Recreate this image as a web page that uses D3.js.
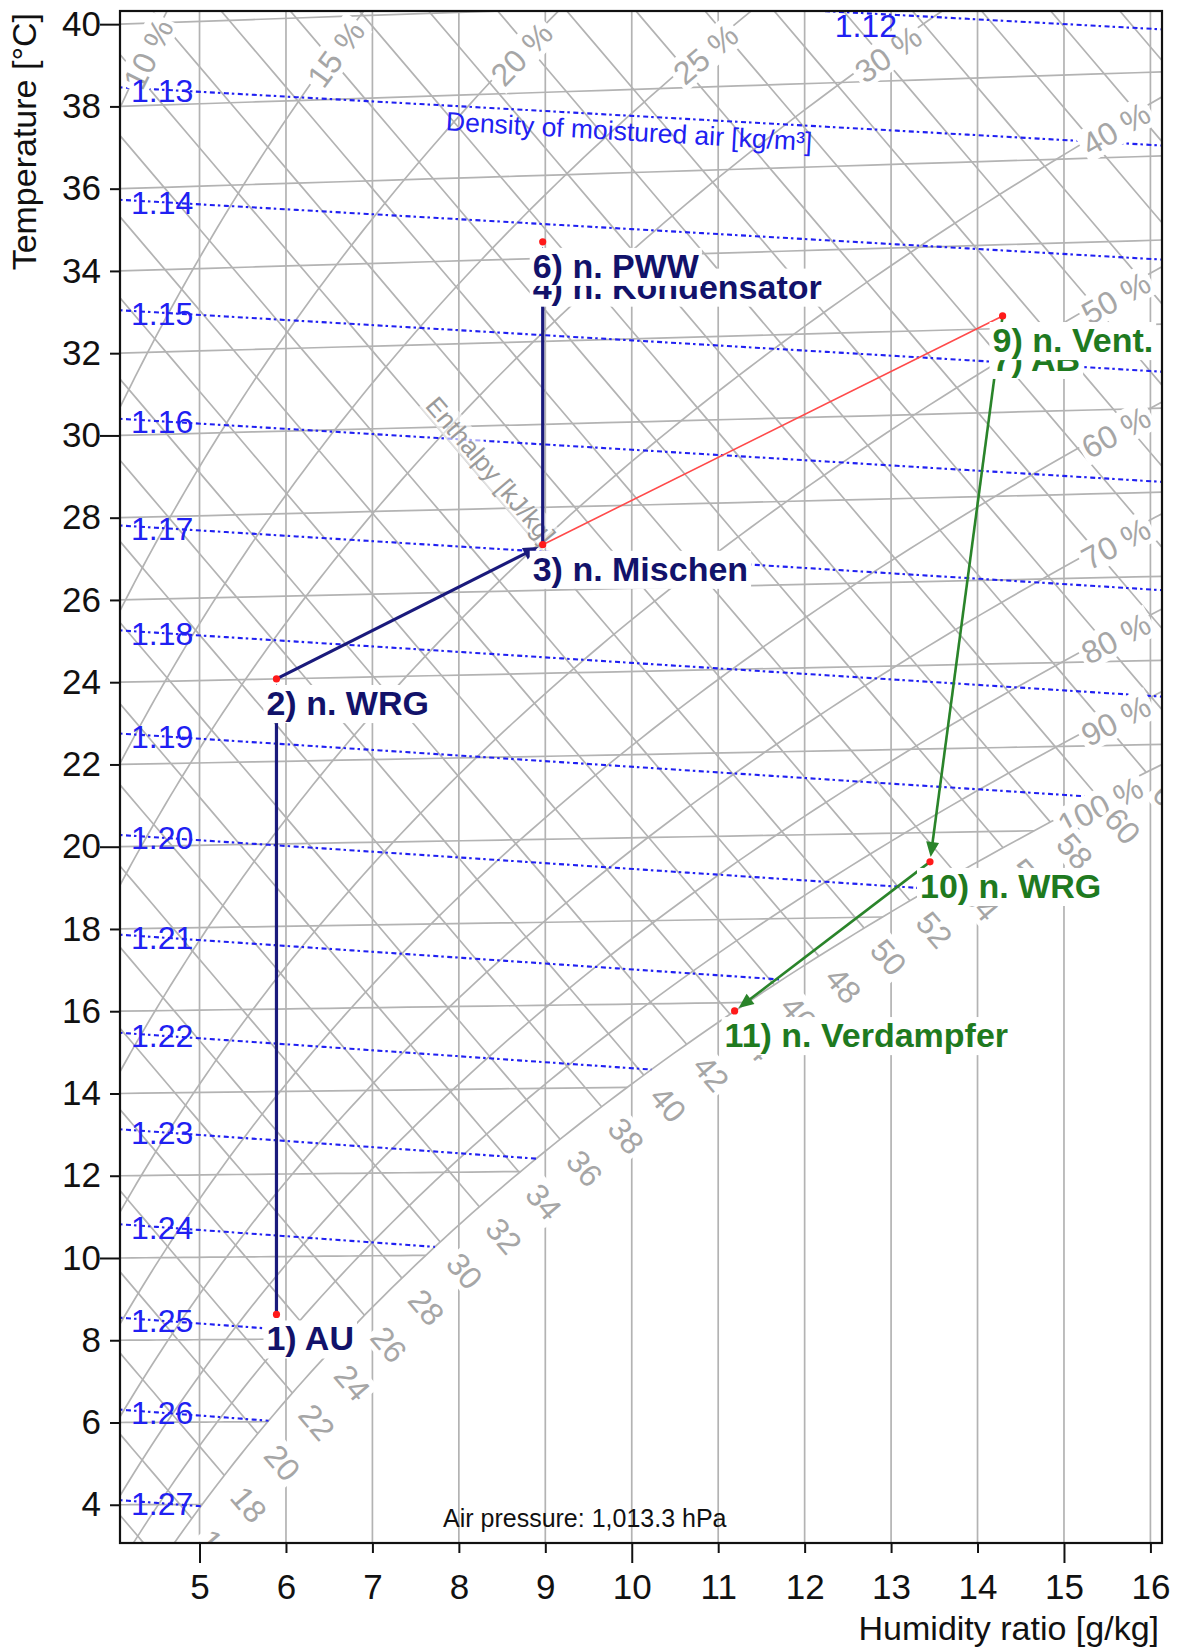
<!DOCTYPE html>
<html>
<head>
<meta charset="utf-8">
<title>h-x diagram</title>
<script src="https://cdn.jsdelivr.net/npm/d3@7/dist/d3.min.js"></script>
<style>
  html, body { margin: 0; padding: 0; background: #ffffff; }
  svg { display: block; font-family: "Liberation Sans", Arial, Helvetica, sans-serif; }
</style>
</head>
<body>
<svg id="chart" width="1179" height="1648"></svg>
<script>
// ---------- axis ticks ----------
const tempTicks = [4, 6, 8, 10, 12, 14, 16, 18, 20, 22, 24, 26, 28, 30, 32, 34, 36, 38, 40];
const humTicks = [5, 6, 7, 8, 9, 10, 11, 12, 13, 14, 15, 16];

// ---------- background line families ----------
const isotherms = [4, 6, 8, 10, 12, 14, 16, 18, 20, 22, 24, 26, 28, 30, 32, 34, 36, 38, 40];
const humidityLines = [5, 6, 7, 8, 9, 10, 11, 12, 13, 14, 15, 16];
const enthalpyLevels = [10, 12, 14, 16, 18, 20, 22, 24, 26, 28, 30, 32, 34, 36, 38, 40, 42, 44, 46, 48,
  50, 52, 54, 56, 58, 60, 62, 64, 66, 68, 70, 72, 74, 76, 78, 80, 82, 84, 86];
const enthalpyLabelLevels = [14, 16, 18, 20, 22, 24, 26, 28, 30, 32, 34, 36, 38, 40, 42, 44, 46, 48,
  50, 52, 54, 56, 58, 60, 62];
const rhLevels = [0.10, 0.15, 0.20, 0.25, 0.30, 0.40, 0.50, 0.60, 0.70, 0.80, 0.90, 1.00];
const rhLabels = ["10 %", "15 %", "20 %", "25 %", "30 %", "40 %", "50 %", "60 %", "70 %", "80 %", "90 %", "100 %"];
const densityLevels = [1.12, 1.13, 1.14, 1.15, 1.16, 1.17, 1.18, 1.19, 1.20, 1.21, 1.22, 1.23, 1.24, 1.25, 1.26, 1.27];
const densityLabels = ["1.12", "1.13", "1.14", "1.15", "1.16", "1.17", "1.18", "1.19", "1.20", "1.21",
  "1.22", "1.23", "1.24", "1.25", "1.26", "1.27"];

// ---------- air states of the process ----------
const pointIds = ["1", "2", "3", "4", "6", "7", "9", "10", "11"];
const pointNames = ["AU", "n. WRG", "n. Mischen", "n. Kondensator", "n. PWW", "AB", "n. Vent.", "n. WRG", "n. Verdampfer"];
const pointTemp = [8.6, 24.0, 27.1, 33.9, 34.4, 31.85, 32.3, 19.3, 15.8];      // °C
const pointHum = [5.89, 5.89, 8.97, 8.97, 8.97, 14.29, 14.29, 13.45, 11.19];   // g/kg
const pointStream = ["supply", "supply", "supply", "supply", "supply", "exhaust", "exhaust", "exhaust", "exhaust"];

// ---------- changes of state ----------
const segStart = ["1", "2", "3", "4", "3", "7", "9", "10"];
const segEnd = ["2", "3", "4", "6", "9", "9", "10", "11"];
const segKind = ["supply", "supply", "supply", "supply", "mix", "exhaust", "exhaust", "exhaust"];

// ---------- styling ----------
const gridColor = "#b3b3b3";
const gridLabelColor = "#a6a6a6";
const densityColor = "#2020f2";
const streamColor = { supply: "#1a1a7c", exhaust: "#2a842a", mix: "#ff4a4a" };
const labelColor = { supply: "#12126a", exhaust: "#1f7a1f" };
const strokeWidth = { supply: 3.2, exhaust: 2.6, mix: 1.6 };

// ---------- layout & scales ----------
const svg = d3.select("#chart");
const width = +svg.attr("width"), height = +svg.attr("height");
const margin = { left: 120, right: 17, top: 11, bottom: 105 };
const plotL = margin.left, plotR = width - margin.right;
const plotT = margin.top, plotB = height - margin.bottom;

const xDom = [4.08, 16.134];
const yDom = [3.07, 40.32];
const xScale = d3.scaleLinear().domain(xDom).range([plotL, plotR]);
const yScale = d3.scaleLinear().domain(yDom).range([plotB, plotT]);

// ---------- psychrometrics at 1013.3 hPa ----------
const P = 101330;
const pSat = t => 611.2 * Math.exp(17.62 * t / (243.12 + t));
const tFromPsat = ps => { const a = Math.log(ps / 611.2); return 243.12 * a / (17.62 - a); };
const xFromPv = pv => 622 * pv / (P - pv);
const pvFromX = x => P * x / (622 + x);
const xAtRH = (t, phi) => xFromPv(phi * pSat(t));
const enthalpy = (t, x) => 1.006 * t + x / 1000 * (2501 + 1.86 * t);
const tAtEnthalpy = (h, x) => (h - 2.501 * x) / (1.006 + 0.00186 * x);
const tAtDensity = (r, x) => { const pv = pvFromX(x); return ((P - pv) / 287.06 + pv / 461.5) / r - 273.15; };
// Mollier ordinate: isotherms tilt with the vapour enthalpy, pinned to the left edge
const ordinate = (t, x) => t * (1.006 + 0.00186 * x) / (1.006 + 0.00186 * xDom[0]);
const sx = x => xScale(x);
const sy = (t, x) => yScale(ordinate(t, x));

function bisect(f, lo, hi) {
  let flo = f(lo);
  for (let i = 0; i < 80; i++) {
    const mid = (lo + hi) / 2, fm = f(mid);
    if ((fm > 0) === (flo > 0)) { lo = mid; flo = fm; } else { hi = mid; }
  }
  return (lo + hi) / 2;
}
const tSatAtEnthalpy = h => bisect(t => enthalpy(t, xAtRH(t, 1)) - h, -30, 70);
const xSatAtDensity = r => bisect(x => xAtRH(tAtDensity(r, x), 1) - x, 0.01, 60);
const sample = (a, b, n) => d3.range(n + 1).map(i => a + (b - a) * i / n);

const curve = d3.line().x(d => sx(d[0])).y(d => sy(d[1], d[0]));

// ---------- drawing ----------
svg.append("rect").attr("width", width).attr("height", height).attr("fill", "#fff");
svg.append("defs").append("clipPath").attr("id", "plotClip")
  .append("rect").attr("x", plotL).attr("y", plotT).attr("width", plotR - plotL).attr("height", plotB - plotT);

const plot = svg.append("g").attr("clip-path", "url(#plotClip)");
const grid = plot.append("g").attr("fill", "none").attr("stroke", gridColor).attr("stroke-width", 1.7);

// constant humidity ratio
grid.selectAll("line.hum").data(humidityLines).join("line")
  .attr("x1", d => xScale(d)).attr("x2", d => xScale(d))
  .attr("y1", yScale(yDom[0])).attr("y2", yScale(yDom[1]));

// isotherms, ending at saturation
grid.selectAll("path.iso").data(isotherms).join("path")
  .attr("d", t => {
    const xEnd = Math.min(xDom[1] + 0.2, xAtRH(t, 1));
    return curve(sample(xDom[0], xEnd, 24).map(x => [x, t]));
  });

// enthalpy lines, ending at saturation
grid.selectAll("path.h").data(enthalpyLevels).join("path")
  .attr("d", h => {
    const xs = xAtRH(tSatAtEnthalpy(h), 1);
    const xEnd = Math.min(xDom[1] + 0.2, xs);
    const xStart = xDom[0] - 0.3;
    if (xEnd <= xStart) return null;
    return curve(sample(xStart, xEnd, 24).map(x => [x, tAtEnthalpy(h, x)]));
  });

// relative humidity curves
grid.selectAll("path.rh").data(rhLevels).join("path")
  .attr("d", phi => curve(d3.range(-10, 60, 0.2).map(t => [xAtRH(t, phi), t]).filter(d => d[0] < 30)));

// density of moist air
const dens = plot.append("g").attr("fill", "none").attr("stroke", densityColor)
  .attr("stroke-width", 2.1).attr("stroke-dasharray", "2.5 3.5 5 3");
const densityEntry = [];
densityLevels.forEach((r, i) => {
  const xEnd = Math.min(xDom[1] + 0.2, xSatAtDensity(r));
  dens.append("path").attr("d", curve(sample(xDom[0], xEnd, 60).map(x => [x, tAtDensity(r, x)])));
  let xe = xDom[0];
  while (xe < xEnd && sy(tAtDensity(r, xe), xe) < plotT) xe += 0.005;
  densityEntry.push([xe, tAtDensity(r, xe)]);
});

// labelled text on a white box, rotated with the line it names
function boxedText(parent, cx, cy, angle, str, size, color, opacity) {
  const g = parent.append("g").attr("transform", `translate(${cx},${cy}) rotate(${angle})`);
  const rect = g.append("rect").attr("fill", "#fff").attr("fill-opacity", opacity);
  const txt = g.append("text").attr("text-anchor", "middle").attr("dy", "0.36em")
    .attr("font-size", size).attr("fill", color).text(str);
  const w = txt.node().getComputedTextLength();
  const hh = size * 1.05;
  rect.attr("x", -w / 2 - 3).attr("y", -hh / 2).attr("width", w + 6).attr("height", hh);
  return g;
}
const angleDeg = (a, b) => Math.atan2(b[1] - a[1], b[0] - a[0]) * 180 / Math.PI;

const gridLabels = plot.append("g");

// relative humidity labels: along the top for the dry curves, at the right edge otherwise
rhLevels.forEach((phi, i) => {
  let t;
  if (phi <= 0.30) {
    t = bisect(tt => ordinate(tt, xAtRH(tt, phi)) - 39.4, -10, 60);
  } else {
    const xr = phi === 1 ? 15.42 : 15.6;
    t = tFromPsat(pvFromX(xr) / phi);
  }
  const x = xAtRH(t, phi);
  const p1 = [sx(xAtRH(t - 0.4, phi)), sy(t - 0.4, xAtRH(t - 0.4, phi))];
  const p2 = [sx(xAtRH(t + 0.4, phi)), sy(t + 0.4, xAtRH(t + 0.4, phi))];
  const dy = phi === 1 ? 10 : 5;
  boxedText(gridLabels, sx(x), sy(t, x) + dy, angleDeg(p1, p2), rhLabels[i], 32, gridLabelColor, 1);
});

// enthalpy labels just beyond the saturation curve
enthalpyLabelLevels.forEach(h => {
  const ts = tSatAtEnthalpy(h), xs = xAtRH(ts, 1);
  const a = [sx(xs - 0.5), sy(tAtEnthalpy(h, xs - 0.5), xs - 0.5)];
  const b = [sx(xs), sy(ts, xs)];
  const len = Math.hypot(b[0] - a[0], b[1] - a[1]);
  const ux = (b[0] - a[0]) / len, uy = (b[1] - a[1]) / len;
  boxedText(gridLabels, b[0] + 38 * ux, b[1] + 38 * uy, angleDeg(a, b), String(h), 32, gridLabelColor, 1);
});

// axis-family titles inside the field
{
  const xe = 8.37, te = 28.93, h = enthalpy(te, xe);
  const a = [sx(xe - 0.5), sy(tAtEnthalpy(h, xe - 0.5), xe - 0.5)];
  const b = [sx(xe + 0.5), sy(tAtEnthalpy(h, xe + 0.5), xe + 0.5)];
  boxedText(gridLabels, sx(xe), sy(te, xe), angleDeg(a, b), "Enthalpy [kJ/kg]", 26, "#9b9b9b", 0.6);
}
{
  const xd = 9.97, td = 37.0;
  const pv = pvFromX(xd), r = ((P - pv) / 287.06 + pv / 461.5) / (td + 273.15);
  const a = [sx(xd - 1), sy(tAtDensity(r, xd - 1), xd - 1)];
  const b = [sx(xd + 1), sy(tAtDensity(r, xd + 1), xd + 1)];
  gridLabels.append("text")
    .attr("transform", `translate(${sx(xd)},${sy(td, xd)}) rotate(${angleDeg(a, b)})`)
    .attr("text-anchor", "middle").attr("dy", "0.36em").attr("font-size", 26.5).attr("fill", densityColor)
    .text("Density of moistured air [kg/m³]");
}

// density values where each line enters the field
gridLabels.selectAll("text.dens").data(densityLevels).join("text")
  .attr("x", (d, i) => sx(densityEntry[i][0]) + 11)
  .attr("y", (d, i) => Math.max(sy(densityEntry[i][1], densityEntry[i][0]), plotT + 12))
  .attr("dy", "0.45em").attr("font-size", 32).attr("fill", densityColor)
  .text((d, i) => densityLabels[i]);

plot.append("text").attr("x", plotL + 323).attr("y", plotB - 16)
  .attr("font-size", 25).attr("fill", "#111").text("Air pressure: 1,013.3 hPa");

// ---------- process ----------
const pts = {};
pointIds.forEach((id, i) => {
  pts[id] = { id, name: pointNames[i], t: pointTemp[i], x: pointHum[i], stream: pointStream[i],
    px: sx(pointHum[i]), py: sy(pointTemp[i], pointHum[i]) };
});

const proc = svg.append("g");
segStart.forEach((s, i) => {
  const a = pts[s], b = pts[segEnd[i]], kind = segKind[i];
  const dx = b.px - a.px, dy = b.py - a.py, len = Math.hypot(dx, dy);
  const ux = dx / len, uy = dy / len;
  if (kind === "mix") {
    proc.append("line").attr("x1", a.px).attr("y1", a.py).attr("x2", b.px).attr("y2", b.py)
      .attr("stroke", streamColor.mix).attr("stroke-width", strokeWidth.mix);
    return;
  }
  const tip = [b.px - 5 * ux, b.py - 5 * uy];
  const base = [tip[0] - 15 * ux, tip[1] - 15 * uy];
  proc.append("line").attr("x1", a.px).attr("y1", a.py).attr("x2", base[0] + 2 * ux).attr("y2", base[1] + 2 * uy)
    .attr("stroke", streamColor[kind]).attr("stroke-width", strokeWidth[kind]);
  proc.append("path")
    .attr("d", `M${tip[0]},${tip[1]}L${base[0] - 6.5 * uy},${base[1] + 6.5 * ux}L${base[0] + 6.5 * uy},${base[1] - 6.5 * ux}Z`)
    .attr("fill", streamColor[kind]);
});

proc.selectAll("circle").data(pointIds).join("circle")
  .attr("cx", id => pts[id].px).attr("cy", id => pts[id].py).attr("r", 3.6).attr("fill", "#ff1a1a");

// point labels on white boxes, later ones covering earlier ones
const labels = svg.append("g");
pointIds.forEach(id => {
  const p = pts[id], size = 34;
  const g = labels.append("g");
  const rect = g.append("rect").attr("fill", "#fff");
  const txt = g.append("text").attr("x", p.px - 10).attr("y", p.py + 36)
    .attr("font-size", size).attr("font-weight", "bold").attr("fill", labelColor[p.stream])
    .text(`${id}) ${p.name}`);
  const w = txt.node().getComputedTextLength();
  rect.attr("x", p.px - 13).attr("y", p.py + 36 - 0.88 * size).attr("width", w + 6).attr("height", 1.12 * size);
});

// ---------- axes ----------
const yAxis = svg.append("g").attr("transform", `translate(${plotL},0)`)
  .call(d3.axisLeft(yScale).tickValues(tempTicks).tickSize(10).tickPadding(9).tickFormat(d3.format("d")));
const xAxis = svg.append("g").attr("transform", `translate(0,${plotB})`)
  .call(d3.axisBottom(xScale).tickValues(humTicks).tickSize(10).tickPadding(21).tickFormat(d3.format("d")));
[yAxis, xAxis].forEach(ax => {
  ax.attr("font-family", null).attr("font-size", 35);
  ax.select(".domain").remove();
  ax.selectAll(".tick line").attr("stroke", "#111").attr("stroke-width", 2);
  ax.selectAll(".tick text").attr("fill", "#111");
});
yAxis.selectAll(".tick line").filter(d => d % 10 === 0).attr("x2", -20);
xAxis.selectAll(".tick line").filter(d => d % 5 === 0).attr("y2", 20);

svg.append("rect").attr("x", plotL).attr("y", plotT).attr("width", plotR - plotL).attr("height", plotB - plotT)
  .attr("fill", "none").attr("stroke", "#111").attr("stroke-width", 2.2);

svg.append("text").attr("transform", `translate(36,13) rotate(-90)`).attr("text-anchor", "end")
  .attr("font-size", 34).attr("fill", "#111").text("Temperature [°C]");
svg.append("text").attr("x", plotR - 3).attr("y", 1640).attr("text-anchor", "end")
  .attr("font-size", 34).attr("fill", "#111").text("Humidity ratio [g/kg]");
</script>
</body>
</html>
